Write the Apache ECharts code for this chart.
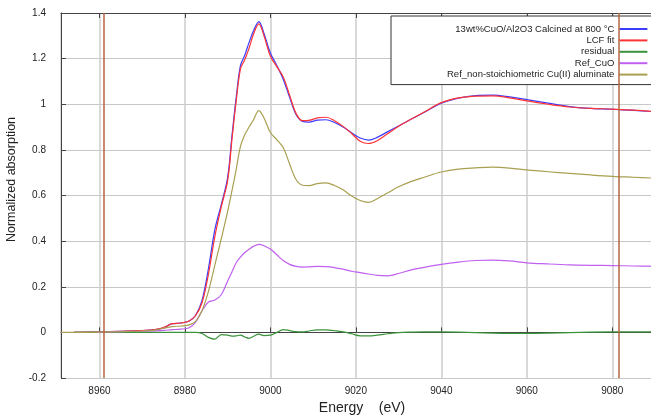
<!DOCTYPE html>
<html>
<head>
<meta charset="utf-8">
<script src="https://cdn.jsdelivr.net/npm/echarts@6/dist/echarts.min.js"></script>
<style>
html,body{margin:0;padding:0;background:#fff;}
#chart{width:651px;height:416px;}
</style>
</head>
<body>
<div id="chart"></div>
<script>
const seriesNames = [
  '13wt%CuO/Al2O3 Calcined at 800 °C',
  'LCF fit',
  'residual',
  'Ref_CuO',
  'Ref_non-stoichiometric Cu(II) aluminate'
];
const energy = [8951, 8954, 8959.5, 8965, 8970, 8973, 8975, 8977, 8979, 8981, 8982.5, 8984, 8985.5, 8987, 8988.5, 8990, 8991, 8992, 8993, 8994, 8995, 8996, 8997.3, 8998.5, 9000, 9001.5, 9003, 9004.5, 9006, 9007.5, 9009, 9011, 9013, 9015, 9017, 9019, 9021, 9023, 9025, 9027.5, 9030, 9033, 9036, 9040, 9044, 9048, 9052, 9056, 9060, 9065, 9070, 9075, 9080, 9085, 9090];
const sample = [null, 0.0, 0.002, 0.005, 0.008, 0.012, 0.02, 0.038, 0.041, 0.05, 0.075, 0.14, 0.28, 0.45, 0.56, 0.68, 0.86, 1.03, 1.17, 1.215, 1.27, 1.32, 1.362, 1.31, 1.225, 1.17, 1.11, 1.03, 0.955, 0.925, 0.922, 0.93, 0.932, 0.92, 0.9, 0.875, 0.852, 0.843, 0.855, 0.88, 0.905, 0.935, 0.965, 1.005, 1.027, 1.038, 1.04, 1.032, 1.02, 1.005, 0.99, 0.982, 0.978, 0.973, 0.967];
const lcfFit = [null, 0.0, 0.002, 0.005, 0.008, 0.012, 0.021, 0.038, 0.041, 0.05, 0.074, 0.13, 0.255, 0.42, 0.55, 0.665, 0.845, 1.015, 1.155, 1.195, 1.245, 1.305, 1.352, 1.30, 1.21, 1.165, 1.12, 1.04, 0.96, 0.928, 0.929, 0.94, 0.943, 0.928, 0.903, 0.872, 0.838, 0.828, 0.84, 0.872, 0.904, 0.935, 0.966, 1.007, 1.028, 1.036, 1.037, 1.028, 1.015, 1.0, 0.988, 0.982, 0.979, 0.974, 0.968];
const residual = [null, 0.0, 0.0, 0.0, 0.0, 0.0, 0.0, 0.0, 0.0, 0.0, 0.0, -0.005, -0.022, -0.03, -0.01, -0.012, -0.016, -0.015, -0.012, -0.02, -0.026, -0.018, -0.008, -0.014, -0.012, 0.0, 0.012, 0.008, 0.003, 0.002, 0.006, 0.011, 0.011, 0.007, 0.002, -0.006, -0.015, -0.015, -0.012, -0.006, -0.001, 0.001, 0.002, 0.002, 0.001, -0.001, -0.003, -0.004, -0.004, -0.003, -0.001, 0.001, 0.002, 0.002, 0.002];
const refCuO = [null, null, 0.001, 0.003, 0.005, 0.007, 0.009, 0.012, 0.014, 0.02, 0.045, 0.095, 0.133, 0.142, 0.165, 0.225, 0.265, 0.305, 0.33, 0.35, 0.364, 0.377, 0.386, 0.38, 0.365, 0.34, 0.315, 0.298, 0.289, 0.286, 0.287, 0.289, 0.288, 0.284, 0.277, 0.268, 0.262, 0.256, 0.25, 0.248, 0.258, 0.274, 0.285, 0.298, 0.308, 0.315, 0.317, 0.313, 0.305, 0.3, 0.296, 0.294, 0.293, 0.291, 0.29];
const refAluminate = [0.0, 0.0, 0.001, 0.003, 0.006, 0.01, 0.018, 0.025, 0.028, 0.033, 0.048, 0.095, 0.18, 0.295, 0.41, 0.53, 0.62, 0.715, 0.815, 0.866, 0.9, 0.93, 0.972, 0.94, 0.876, 0.845, 0.81, 0.738, 0.67, 0.645, 0.643, 0.652, 0.655, 0.644, 0.625, 0.598, 0.578, 0.57, 0.586, 0.612, 0.638, 0.662, 0.68, 0.703, 0.716, 0.721, 0.724, 0.72, 0.712, 0.704, 0.697, 0.69, 0.684, 0.68, 0.676];
const markerEnergies = [8961.1, 9081.5];
const seriesColors = ['#3c3cff', '#ff3434', '#3a923a', '#c060f0', '#a8a050'];

function pairs(vals) {
  const out = [];
  energy.forEach((e, i) => { if (vals[i] !== null) out.push([e, vals[i]]); });
  return out;
}
const allValues = [sample, lcfFit, residual, refCuO, refAluminate];

const chart = echarts.init(document.getElementById('chart'), null, {renderer: 'canvas'});
const fontFam = '"Liberation Sans", Arial, sans-serif';
const series = allValues.map((vals, k) => ({
  name: seriesNames[k],
  type: 'line',
  data: pairs(vals),
  symbol: 'none',
  showSymbol: false,
  smooth: 0.35,
  lineStyle: {width: 1.2, color: seriesColors[k]},
  itemStyle: {color: seriesColors[k]},
  z: 3,
  animation: false
}));
series.push({
  name: 'markers',
  type: 'line',
  data: [],
  z: 6,
  silent: true,
  markLine: {
    silent: true,
    symbol: ['none', 'none'],
    label: {show: false},
    lineStyle: {color: '#b5653f', width: 1.5, type: 'solid'},
    data: markerEnergies.map(v => ({xAxis: v}))
  },
  animation: false
});

const hGridLine = {show: true, lineStyle: {color: '#c8c8c8', width: 1, type: 'solid', opacity: 1}};
const vGridLine = {show: true, lineStyle: {color: '#cdcdcd', width: 1.5, type: 'solid', opacity: 1}};

chart.setOption({
  backgroundColor: '#ffffff',
  animation: false,
  textStyle: {fontFamily: fontFam},
  grid: {left: 61, top: 13, width: 594, height: 365, containLabel: false, outerBoundsMode: 'none'},
  legend: {
    data: seriesNames,
    orient: 'vertical',
    left: 391,
    top: 16,
    align: 'right',
    itemWidth: 28,
    itemHeight: 11,
    itemGap: 1.4,
    padding: [8, 8, 5, 56],
    backgroundColor: '#ffffff',
    borderColor: '#333333',
    borderWidth: 1,
    z: 2,
    itemStyle: {opacity: 0},
    textStyle: {fontSize: 9.5, color: '#222', fontFamily: fontFam}
  },
  xAxis: [{
    type: 'value',
    min: 8951,
    max: 9090,
    splitNumber: 7,
    name: 'Energy    (eV)',
    nameLocation: 'middle',
    nameGap: 21,
    nameTextStyle: {fontSize: 14, color: '#222', fontFamily: fontFam, padding: [0, 0, 0, 8]},
    axisLine: {show: true, lineStyle: {color: '#444', width: 1}},
    axisTick: {show: true, inside: true, length: 5, lineStyle: {color: '#444'}},
    axisLabel: {fontSize: 10, color: '#222', margin: 8, showMinLabel: false, showMaxLabel: false,
      formatter: v => String(v)},
    splitLine: vGridLine
  }, {
    type: 'value',
    position: 'top',
    min: 8951,
    max: 9090,
    splitNumber: 7,
    axisLine: {show: true, lineStyle: {color: '#444', width: 1}},
    axisTick: {show: true, inside: true, length: 5, lineStyle: {color: '#444'}},
    axisLabel: {show: false},
    splitLine: {show: false}
  }],
  yAxis: {
    type: 'value',
    min: -0.2,
    max: 1.4,
    interval: 0.2,
    name: 'Normalized absorption',
    nameLocation: 'middle',
    nameGap: 35,
    nameTextStyle: {fontSize: 12.5, color: '#222', fontFamily: fontFam, padding: [0, 0, 0, 32]},
    axisLine: {show: true, lineStyle: {color: '#444', width: 1}},
    axisTick: {show: true, inside: true, length: 5, lineStyle: {color: '#444'}},
    axisLabel: {fontSize: 10, color: '#222', margin: 15},
    splitLine: hGridLine
  },
  series: series
});
</script>
</body>
</html>
